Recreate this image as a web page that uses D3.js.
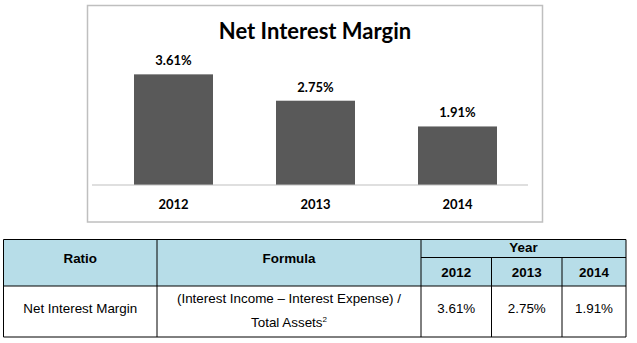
<!DOCTYPE html>
<html><head><meta charset="utf-8">
<script src="https://cdn.jsdelivr.net/npm/d3@7"></script>
<style>
html,body{margin:0;padding:0;background:#fff;}
svg{display:block;}
</style></head>
<body>
<svg id="c" width="637" height="343"></svg>
<script>
// ---- data ----
const years = ["2012", "2013", "2014"];
const nimValues = [3.61, 2.75, 1.91];
const chartTitle = "Net Interest Margin";
const tableHeaders = ["Ratio", "Formula", "Year"];
const ratioName = "Net Interest Margin";
const formulaLines = ["(Interest Income \u2013 Interest Expense) /", "Total Assets"];

const svg = d3.select("#c");
const fmt = v => v.toFixed(2) + "%";

// ---- chart box ----
svg.append("rect").attr("x", 87.5).attr("y", 5.5).attr("width", 455).attr("height", 216.5)
  .attr("fill", "#fff").attr("stroke", "#bfbfbf").attr("stroke-width", 1.5);

svg.append("text").attr("x", 315).attr("y", 39).attr("text-anchor", "middle")
  .attr("font-family", "Lato, 'Open Sans', sans-serif").attr("font-weight", "bold")
  .attr("font-size", 22).attr("fill", "#000").text(chartTitle);

const x = d3.scaleBand().domain(years).range([91.4, 539.6]).paddingInner(0.4437).paddingOuter(0.3);
const y = d3.scaleLinear().domain([0, 4]).range([185, 62.4]);

svg.append("g").selectAll("rect").data(years).join("rect")
  .attr("x", d => x(d)).attr("width", x.bandwidth())
  .attr("y", (d, i) => y(nimValues[i])).attr("height", (d, i) => y(0) - y(nimValues[i]))
  .attr("fill", "#595959");

svg.append("g").selectAll("text").data(years).join("text")
  .attr("x", d => x(d) + x.bandwidth() / 2).attr("y", (d, i) => y(nimValues[i]) - 9)
  .attr("text-anchor", "middle").attr("font-family", "Lato, 'Open Sans', sans-serif")
  .attr("font-weight", "bold").attr("font-size", 13).text((d, i) => fmt(nimValues[i]));

const xAxis = svg.append("g").attr("transform", "translate(0,185)")
  .call(d3.axisBottom(x).tickSize(0).tickPadding(14.5));
xAxis.select(".domain").attr("stroke", "#bfbfbf").attr("stroke-width", 1.2).attr("d", "M92,0H528");
xAxis.selectAll("text").attr("font-family", "Lato, 'Open Sans', sans-serif")
  .attr("font-weight", "bold").attr("font-size", 13).attr("fill", "#000");

// ---- table ----
const T = {left: 3.5, right: 626, top: 239.5, yearRow: 257.5, head: 286, bottom: 337,
  c1: 157, c2: 421, c3: 491.5, c4: 562};
const g = svg.append("g");
const headBg = "#b7dde8";
g.append("rect").attr("x", T.left).attr("y", T.top).attr("width", T.right - T.left)
  .attr("height", T.head - T.top).attr("fill", headBg);

const line = (x1, y1, x2, y2) => g.append("line").attr("x1", x1).attr("y1", y1)
  .attr("x2", x2).attr("y2", y2).attr("stroke", "#000").attr("stroke-width", 1);
line(T.left, T.top, T.right, T.top);
line(T.left, T.head, T.right, T.head);
line(T.left, T.bottom, T.right, T.bottom);
line(T.c2, T.yearRow, T.right, T.yearRow);
[T.left, T.c1, T.c2, T.right].forEach(v => line(v, T.top, v, T.bottom));
[T.c3, T.c4].forEach(v => line(v, T.yearRow, v, T.bottom));

const tf = "Arial, 'Liberation Sans', sans-serif";
const txt = (xx, yy, s, bold) => g.append("text").attr("x", xx).attr("y", yy)
  .attr("text-anchor", "middle").attr("font-family", tf).attr("font-size", 13.4)
  .attr("font-weight", bold ? "bold" : "normal").attr("fill", "#000").text(s);

txt((T.left + T.c1) / 2, 263, tableHeaders[0], true);
txt((T.c1 + T.c2) / 2, 263, tableHeaders[1], true);
txt((T.c2 + T.right) / 2, 251.5, tableHeaders[2], true);
const yc = [T.c2, T.c3, T.c4, T.right];
years.forEach((yr, i) => txt((yc[i] + yc[i + 1]) / 2, 276.5, yr, true));

txt((T.left + T.c1) / 2, 313, ratioName, false);
txt((T.c1 + T.c2) / 2, 302.5, formulaLines[0], false);
const t2 = txt((T.c1 + T.c2) / 2, 326.5, formulaLines[1], false);
t2.append("tspan").attr("font-size", 8).attr("dy", -5).text("2");
nimValues.forEach((v, i) => txt((yc[i] + yc[i + 1]) / 2, 313, fmt(v), false));
</script>
</body></html>
